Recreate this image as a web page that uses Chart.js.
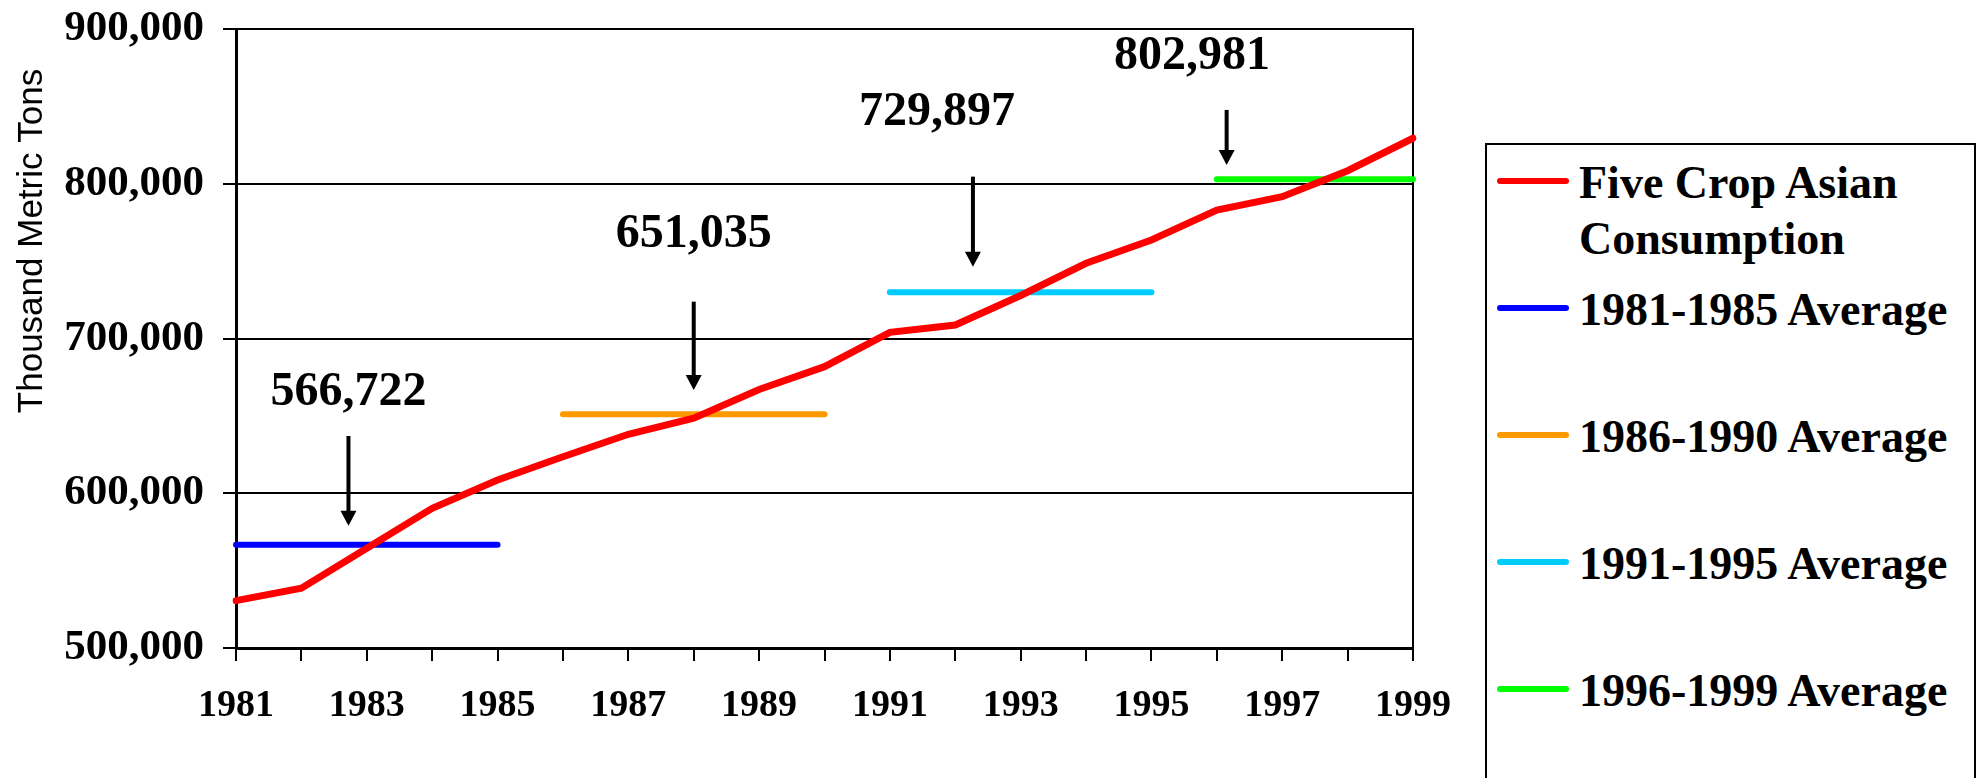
<!DOCTYPE html>
<html>
<head>
<meta charset="utf-8">
<script src="https://cdn.jsdelivr.net/npm/chart.js@4/dist/chart.umd.min.js"></script>
<style>
  html, body { margin: 0; padding: 0; background: #fff; overflow: hidden; }
  #wrap { position: relative; width: 1984px; height: 778px; }
  #chart { position: absolute; left: 0; top: 0; }
  #legend {
    position: absolute; left: 1485px; top: 143px; width: 491px; height: 700px;
    border: 2px solid #000; box-sizing: border-box; background: #fff;
  }
  .lg-row { position: absolute; left: 0; width: 100%; }
  .lg-line { position: absolute; left: 10px; top: 23px; width: 72px; height: 6px; border-radius: 3px; }
  .lg-text {
    position: absolute; left: 92px; width: 390px;
    font: bold 46px "Liberation Serif", "Times New Roman", serif; line-height: 56px; color: #000;
  }
</style>
</head>
<body>
<div id="wrap">
  <canvas id="chart" width="1984" height="778"></canvas>
  <div id="legend"></div>
</div>
<script>
// Data
const years = ['1981','1982','1983','1984','1985','1986','1987','1988','1989','1990',
               '1991','1992','1993','1994','1995','1996','1997','1998','1999'];
const consumption = [530600, 538600, 564400, 590300, 608600, 623600, 638100, 648500, 667000, 681800,
                     704000, 708700, 727800, 748600, 763700, 783000, 791600, 808400, 829400];
const avg8185 = [566722, 566722, 566722, 566722, 566722, null, null, null, null, null,
                 null, null, null, null, null, null, null, null, null];
const avg8690 = [null, null, null, null, null, 651035, 651035, 651035, 651035, 651035,
                 null, null, null, null, null, null, null, null, null];
const avg9195 = [null, null, null, null, null, null, null, null, null, null,
                 729897, 729897, 729897, 729897, 729897, null, null, null, null];
const avg9699 = [null, null, null, null, null, null, null, null, null, null,
                 null, null, null, null, null, 802981, 802981, 802981, 802981];
const averages = [566722, 651035, 729897, 802981];
const yTicks = [500000, 600000, 700000, 800000, 900000];

// Callout placement (data units) for the arrows and their numbers
const callouts = {
  arrowYear:   [1982.72, 1988.0, 1992.27, 1996.15],
  arrowTop:    [637000, 723800, 804600, 847700],
  arrowTip:    [579000, 666700, 746400, 812100],
  labelYear:   [1982.72, 1988.0, 1991.72, 1995.62],
  labelBase:   [657000, 759100, 838000, 874000]
};

const fmt = v => v.toLocaleString('en-US');
const serif = '"Liberation Serif", "Times New Roman", serif';

// right frame line of the plot
const framePlugin = {
  id: 'frame',
  beforeDatasetsDraw(chart) {
    const { ctx, chartArea: a } = chart;
    ctx.save();
    ctx.strokeStyle = '#000';
    ctx.lineWidth = 2;
    ctx.beginPath();
    ctx.moveTo(a.right, a.top - 1);
    ctx.lineTo(a.right, a.bottom);
    ctx.stroke();
    ctx.restore();
  }
};

// arrows + average values
const calloutPlugin = {
  id: 'callouts',
  afterDatasetsDraw(chart) {
    const { ctx } = chart;
    const x = chart.scales.x, y = chart.scales.y;
    const first = Number(years[0]);
    ctx.save();
    ctx.fillStyle = '#000';
    ctx.strokeStyle = '#000';
    averages.forEach((v, i) => {
      const ax = x.getPixelForValue(callouts.arrowYear[i] - first);
      const top = y.getPixelForValue(callouts.arrowTop[i]);
      const tip = y.getPixelForValue(callouts.arrowTip[i]);
      ctx.lineWidth = 4;
      ctx.beginPath();
      ctx.moveTo(ax, top);
      ctx.lineTo(ax, tip - 12);
      ctx.stroke();
      ctx.beginPath();
      ctx.moveTo(ax - 8, tip - 15);
      ctx.lineTo(ax + 8, tip - 15);
      ctx.lineTo(ax, tip);
      ctx.closePath();
      ctx.fill();

      ctx.font = 'bold 48px ' + serif;
      ctx.textAlign = 'center';
      ctx.textBaseline = 'alphabetic';
      ctx.fillText(fmt(v), x.getPixelForValue(callouts.labelYear[i] - first), y.getPixelForValue(callouts.labelBase[i]));
    });
    ctx.restore();
  }
};

// y axis title, sits above the middle like the original
const yTitlePlugin = {
  id: 'yTitle',
  afterDraw(chart) {
    const { ctx } = chart;
    ctx.save();
    ctx.translate(42, 241);
    ctx.rotate(-Math.PI / 2);
    ctx.font = '35px "Liberation Sans", Arial, sans-serif';
    ctx.fillStyle = '#000';
    ctx.textAlign = 'center';
    ctx.textBaseline = 'alphabetic';
    ctx.fillText('Thousand Metric Tons', 0, 0);
    ctx.restore();
  }
};

function lineSet(label, data, color, width) {
  return {
    label, data,
    borderColor: color, backgroundColor: color,
    borderWidth: width, pointRadius: 0, pointHoverRadius: 0,
    tension: 0, fill: false, spanGaps: false,
    borderCapStyle: 'round', borderJoinStyle: 'miter'
  };
}

const chart = new Chart(document.getElementById('chart').getContext('2d'), {
  type: 'line',
  data: {
    labels: years,
    datasets: [
      lineSet('Five Crop Asian Consumption', consumption, '#ff0000', 7),
      lineSet('1981-1985 Average', avg8185, '#0000ff', 6),
      lineSet('1986-1990 Average', avg8690, '#ff9900', 6),
      lineSet('1991-1995 Average', avg9195, '#00ccff', 6),
      lineSet('1996-1999 Average', avg9699, '#00ff00', 6)
    ]
  },
  options: {
    responsive: false,
    devicePixelRatio: 1,
    animation: false,
    layout: { padding: { top: 29, right: 571, bottom: 0, left: 0 } },
    plugins: { legend: { display: false }, tooltip: { enabled: false } },
    scales: {
      x: {
        offset: false,
        afterFit: s => { s.height = 130; s.paddingLeft = 0; s.paddingRight = 0; },
        grid: { drawOnChartArea: false, drawTicks: true, tickLength: 13, color: '#000', lineWidth: 2 },
        border: { display: true, color: '#000', width: 3 },
        ticks: {
          autoSkip: false, maxRotation: 0, padding: 22, color: '#000',
          font: { family: serif, size: 38, weight: 'bold' },
          callback: (v, i) => (i % 2 === 0 ? years[i] : '')
        }
      },
      y: {
        min: yTicks[0], max: yTicks[yTicks.length - 1],
        afterFit: s => { s.width = 236; s.paddingTop = 0; s.paddingBottom = 0; },
        afterBuildTicks: s => { s.ticks = yTicks.map(v => ({ value: v })); },
        grid: { color: '#000', lineWidth: 2, tickLength: 13 },
        border: { display: true, color: '#000', width: 3 },
        ticks: {
          padding: 19, color: '#000',
          font: { family: serif, size: 43, weight: 'bold' },
          callback: v => fmt(v)
        }
      }
    }
  },
  plugins: [framePlugin, calloutPlugin, yTitlePlugin]
});

// Legend built from the datasets
function renderLegend() {
  const box = document.getElementById('legend');
  box.innerHTML = chart.data.datasets.map((d, i) => `
    <div class="lg-row" style="top:${10 + i * 127}px;">
      <div class="lg-line" style="background:${d.borderColor};"></div>
      <div class="lg-text">${d.label}</div>
    </div>
  `).join('');
}
renderLegend();
</script>
</body>
</html>
